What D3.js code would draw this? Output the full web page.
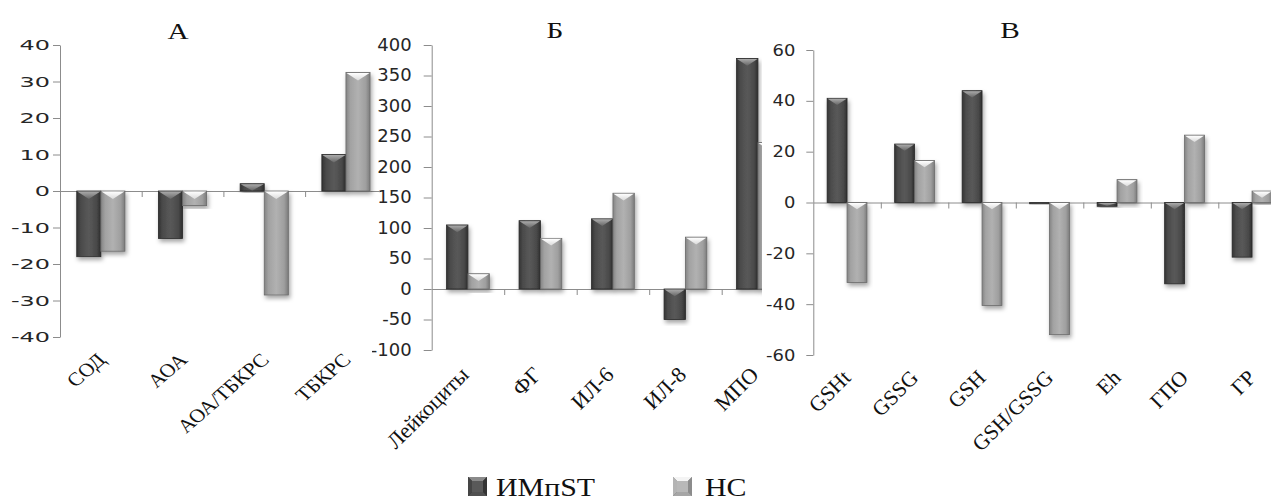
<!DOCTYPE html>
<html>
<head>
<meta charset="utf-8">
<script src="https://cdn.jsdelivr.net/npm/d3@7"></script>
<style>
body { margin: 0; background: #fff; }
</style>
</head>
<body>
<svg id="chart"></svg>
<script>
// ========== DATA ==========
var series = ['ИМпST', 'НС'];

// panel A
var catsA = ['СОД', 'АОА', 'АОА/ТБКРС', 'ТБКРС'];
var imA = [-18, -13, 2, 10];
var nsA = [-16.5, -4, -28.5, 32.5];
var ticksA = [-40, -30, -20, -10, 0, 10, 20, 30, 40];

// panel Б
var catsB = ['Лейкоциты', 'ФГ', 'ИЛ-6', 'ИЛ-8', 'МПО'];
var imB = [105, 112, 115, -50, 378];
var nsB = [25, 83, 157, 85, 240];
var ticksB = [-100, -50, 0, 50, 100, 150, 200, 250, 300, 350, 400];

// panel В
var catsV = ['GSHt', 'GSSG', 'GSH', 'GSH/GSSG', 'Eh', 'ГПО', 'ГР'];
var imV = [41, 23, 44, -0.5, -1.5, -32, -21.5];
var nsV = [-31.5, 16.5, -40.5, -52, 9, 26.5, 4.5];
var ticksV = [-60, -40, -20, 0, 20, 40, 60];

// ========== CONSTANTS ==========
var W = 1271, H = 500;
var axis_color = '#8c8c8c';
var text_color = '#262626';
var serif = '"Liberation Serif", "DejaVu Serif", serif';
var sans = '"DejaVu Sans", Verdana, sans-serif';

var svg = d3.select('#chart').attr('width', W).attr('height', H);
svg.append('rect').attr('width', W).attr('height', H).attr('fill', '#fff');

var defs = svg.append('defs');

function gradient(id, stops, vertical) {
	var g = defs.append('linearGradient').attr('id', id)
		.attr('x1', 0).attr('y1', 0)
		.attr('x2', vertical ? 0 : 1).attr('y2', vertical ? 1 : 0);
	stops.forEach(function(s) {
		g.append('stop').attr('offset', s[0]).attr('stop-color', s[1]);
	});
}
gradient('g-dark', [[0, '#333'], [0.18, '#4b4b4b'], [0.5, '#595959'], [0.82, '#4a4a4a'], [1, '#2e2e2e']]);
gradient('g-light', [[0, '#848484'], [0.18, '#a2a2a2'], [0.5, '#b1b1b1'], [0.82, '#9f9f9f'], [1, '#7c7c7c']]);
gradient('g-dark-top', [[0, '#ababab'], [1, '#666']], true);
gradient('g-light-top', [[0, '#ffffff'], [1, '#dadada']], true);

var shadow = defs.append('filter').attr('id', 'shadow')
	.attr('x', '-30%').attr('y', '-10%').attr('width', '160%').attr('height', '130%');
shadow.append('feDropShadow')
	.attr('dx', 1.5).attr('dy', 3).attr('stdDeviation', 2)
	.attr('flood-color', '#000').attr('flood-opacity', 0.35);

var fills = ['url(#g-dark)', 'url(#g-light)'];
var tops = ['url(#g-dark-top)', 'url(#g-light-top)'];
var strokes = ['#2a2a2a', '#6a6a6a'];

// ========== PANELS ==========
var panelB = {
	id: 'b', cats: catsB, vals: [imB, nsB], ticks: ticksB, title: 'Б',
	titleX: 555, titleY: 38,
	x0: 431.7, catW: 72.5, yTop: 45, yBot: 350,
	clip: [372, 762], bg: true,
	tickFont: 17, tickSx: 1.06, tickGap: 20, tickLen: 8,
	labFont: 22, labSx: 1.0, labDx: 2, labDy: 26
};
var panelA = {
	id: 'a', cats: catsA, vals: [imA, nsA], ticks: ticksA, title: 'А',
	titleX: 178, titleY: 39,
	x0: 60, catW: 81.7, yTop: 45, yBot: 337,
	clip: [0, 380], bg: false,
	tickFont: 14.5, tickSx: 1.65, tickGap: 10, tickLen: 7,
	labFont: 19, labSx: 1.15, labDx: 6, labDy: 24
};
var panelV = {
	id: 'v', cats: catsV, vals: [imV, nsV], ticks: ticksV, title: 'В',
	titleX: 1010, titleY: 38,
	x0: 813.3, catW: 67.5, yTop: 50, yBot: 355,
	clip: [762, 1271], bg: true,
	tickFont: 16, tickSx: 1.12, tickGap: 18, tickLen: 7,
	labFont: 21.5, labSx: 1.0, labDx: 5, labDy: 24
};

[panelB, panelA, panelV].forEach(drawPanel);
drawLegend();

function drawPanel(p) {
	var n = p.cats.length;
	var y = d3.scaleLinear()
		.domain([p.ticks[0], p.ticks[p.ticks.length - 1]])
		.range([p.yBot, p.yTop]);
	var x = d3.scaleBand().domain(p.cats)
		.range([p.x0, p.x0 + n * p.catW]);
	var bw = x.bandwidth();
	var xs = d3.scaleBand().domain(series).range([0.205 * bw, 0.795 * bw]);
	var edge = d3.scaleLinear().domain([0, n]).range([p.x0, p.x0 + n * p.catW]);

	defs.append('clipPath').attr('id', 'clip-' + p.id)
		.append('rect')
		.attr('x', p.clip[0]).attr('y', 0)
		.attr('width', p.clip[1] - p.clip[0]).attr('height', 452);

	var g = svg.append('g').attr('clip-path', 'url(#clip-' + p.id + ')');
	if (p.bg) {
		g.append('rect')
			.attr('x', p.clip[0]).attr('y', 0)
			.attr('width', p.clip[1] - p.clip[0]).attr('height', 452)
			.attr('fill', '#fff');
	}

	// title
	g.append('text')
		.attr('transform', 'translate(' + p.titleX + ',' + p.titleY + ') scale(1.22,1)')
		.attr('text-anchor', 'middle')
		.attr('font-family', serif)
		.attr('font-size', 24)
		.attr('fill', '#111')
		.text(p.title);

	// y axis
	var yAxis = g.append('g')
		.attr('transform', 'translate(' + p.x0 + ',0)')
		.call(d3.axisLeft(y).tickValues(p.ticks)
			.tickFormat(function(d) { return String(d); })
			.tickSize(p.tickLen).tickSizeOuter(0));
	yAxis.select('.domain').attr('stroke', axis_color);
	yAxis.selectAll('.tick line').attr('stroke', axis_color);
	yAxis.selectAll('.tick text')
		.attr('x', -p.tickGap / p.tickSx)
		.attr('transform', 'scale(' + p.tickSx + ',1)')
		.attr('font-family', sans)
		.attr('font-size', p.tickFont)
		.attr('fill', text_color);

	// x axis at zero
	var xAxis = g.append('g')
		.attr('transform', 'translate(0,' + y(0) + ')')
		.call(d3.axisBottom(edge).tickValues(d3.range(1, n + 1))
			.tickFormat('').tickSize(6).tickSizeOuter(0));
	xAxis.select('.domain').attr('stroke', axis_color);
	xAxis.selectAll('.tick line').attr('stroke', axis_color);

	// bars
	var rows = [];
	p.cats.forEach(function(c, i) {
		series.forEach(function(s, j) {
			rows.push({ cat: c, s: s, j: j, v: p.vals[j][i] });
		});
	});

	var bars = g.selectAll('.bar-' + p.id)
		.data(rows).enter().append('g')
		.attr('class', 'bar-' + p.id);

	bars.append('rect')
		.attr('x', function(d) { return x(d.cat) + xs(d.s); })
		.attr('y', function(d) { return Math.min(y(d.v), y(0)); })
		.attr('width', xs.bandwidth())
		.attr('height', function(d) { return Math.max(1, Math.abs(y(d.v) - y(0))); })
		.attr('fill', function(d) { return fills[d.j]; })
		.attr('stroke', function(d) { return strokes[d.j]; })
		.attr('stroke-width', 0.8)
		.attr('filter', 'url(#shadow)');

	// bevel on top edge
	bars.filter(function(d) { return Math.abs(y(d.v) - y(0)) > 3; })
		.append('path')
		.attr('d', function(d) {
			var x1 = x(d.cat) + xs(d.s) + 0.5;
			var w = xs.bandwidth() - 1;
			var top = Math.min(y(d.v), y(0)) + 0.5;
			var h = Math.min(w * 0.33, Math.abs(y(d.v) - y(0)) - 1);
			return d3.line()([[x1, top], [x1 + w, top], [x1 + w / 2, top + h]]) + 'Z';
		})
		.attr('fill', function(d) { return tops[d.j]; });

	// category labels
	g.selectAll('.lab-' + p.id)
		.data(p.cats).enter().append('text')
		.attr('class', 'lab-' + p.id)
		.attr('transform', function(d) {
			var cx = x(d) + bw / 2 + p.labDx;
			return 'translate(' + cx + ',' + (p.yBot + p.labDy) + ') scale(' + p.labSx + ',1) rotate(-45)';
		})
		.attr('text-anchor', 'end')
		.attr('font-family', serif)
		.attr('font-size', p.labFont)
		.attr('fill', '#111')
		.text(function(d) { return d; });
}

function drawLegend() {
	var items = [
		{ name: series[0], x: 468, text_x: 496, c: ['#8a8a8a', '#454545', '#343434', '#505050', '#595959', '#262626'] },
		{ name: series[1], x: 673, text_x: 705, c: ['#f4f4f4', '#b4b4b4', '#8c8c8c', '#a6a6a6', '#b8b8b8', '#6e6e6e'] }
	];
	var s = 19, top = 477;
	var lg = svg.append('g');
	items.forEach(function(it) {
		var x0 = it.x, y0 = top, m = 4;
		var cx = x0 + s / 2, cy = y0 + s / 2;
		lg.append('rect').attr('x', x0).attr('y', y0).attr('width', s).attr('height', s).attr('fill', it.c[5]);
		var faces = [
			[[x0, y0], [x0 + s, y0], [cx, cy]],
			[[x0, y0], [x0, y0 + s], [cx, cy]],
			[[x0 + s, y0], [x0 + s, y0 + s], [cx, cy]],
			[[x0, y0 + s], [x0 + s, y0 + s], [cx, cy]]
		];
		faces.forEach(function(f, k) {
			lg.append('path').attr('d', d3.line()(f) + 'Z').attr('fill', it.c[k]);
		});
		lg.append('rect')
			.attr('x', x0 + m).attr('y', y0 + m)
			.attr('width', s - 2 * m).attr('height', s - 2 * m)
			.attr('fill', it.c[4]);
		lg.append('text')
			.attr('transform', 'translate(' + it.text_x + ',' + (top + 18.5) + ') scale(1.15,1)')
			.attr('font-family', serif)
			.attr('font-size', 26)
			.attr('fill', '#111')
			.text(it.name);
	});
}
</script>
</body>
</html>
